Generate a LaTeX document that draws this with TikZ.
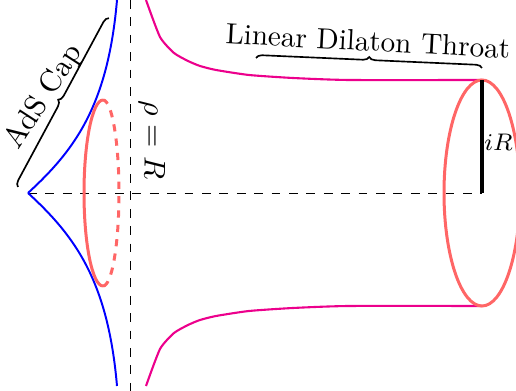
\documentclass[tikz,border=0pt]{standalone}
\usepackage{amsmath}
\usetikzlibrary{decorations.pathreplacing}
\definecolor{capblue}{RGB}{0,0,255}
\definecolor{throat}{RGB}{236,0,140}
\definecolor{circ}{RGB}{255,102,102}

\begin{document}
\begin{tikzpicture}[
  x=0.3333pt,y=-0.3333pt,
  capline/.style={capblue,line width=0.65pt},
  wall/.style={throat,line width=0.7pt},
  ring/.style={circ,line width=1pt},
  axis/.style={line width=0.27pt,dash pattern=on 2.9pt off 2.9pt},
  brc/.style={decorate,decoration={brace,amplitude=2pt},line width=0.55pt}
]
\useasboundingbox (0,0) rectangle (516,391);
% Reference lines
\coordinate (tip) at (28,193);
\coordinate (end) at (482,193);
\coordinate (top) at (482,80);
\coordinate (rtop) at (130,0);
\coordinate (rbot) at (130,391);
\draw[axis] (tip) -- (end);
\draw[axis] (rtop) -- (rbot);
% AdS cap
\draw[capline] (117,0) .. controls (108,105) and (75,150) .. (tip);
\draw[capline] (tip) .. controls (75,236) and (108,281) .. (117,386);
% Throat
\draw[wall] plot[smooth,tension=0.35] coordinates {(146,0) (160,37) (174,53) (188,61) (200,66) (216,70) (249,75) (293,78) (349,80) (482,80)};
\draw[wall] plot[smooth,tension=0.35] coordinates {(146,386) (160,349) (174,333) (188,325) (200,320) (216,316) (249,311) (293,308) (349,306) (482,306)};
% Circles
\draw[ring] (84,193) arc[start angle=180,end angle=90,x radius=19,y radius=93] coordinate (ltop);
\draw[ring] (84,193) arc[start angle=180,end angle=270,x radius=19,y radius=93] coordinate (lbot);
\draw[ring,dash pattern=on 2.4pt off 2.4pt] (ltop) arc[start angle=90,end angle=-90,x radius=16,y radius=93];
\draw[ring] (482,193) ellipse[x radius=38,y radius=113];
\draw[line width=1.1pt] (top) -- (end);
% Labels
\node[rotate=-90] (rho) at (152,140) {$\rho=R$};
\node[font=\footnotesize] (ir) at (498.5,142) {$iR$};
\coordinate (ads1) at (18,187);
\coordinate (ads2) at (109,18);
\coordinate (lin1) at (256,58);
\coordinate (lin2) at (482,68);
\draw[brc] (ads1) -- (ads2);
\draw[brc] (lin1) -- (lin2);
\node[rotate=57] (ads) at (44,97) {AdS Cap};
\node[rotate=-3,scale=0.97] (lin) at (368,41) {Linear Dilaton Throat};
\end{tikzpicture}
\end{document}
